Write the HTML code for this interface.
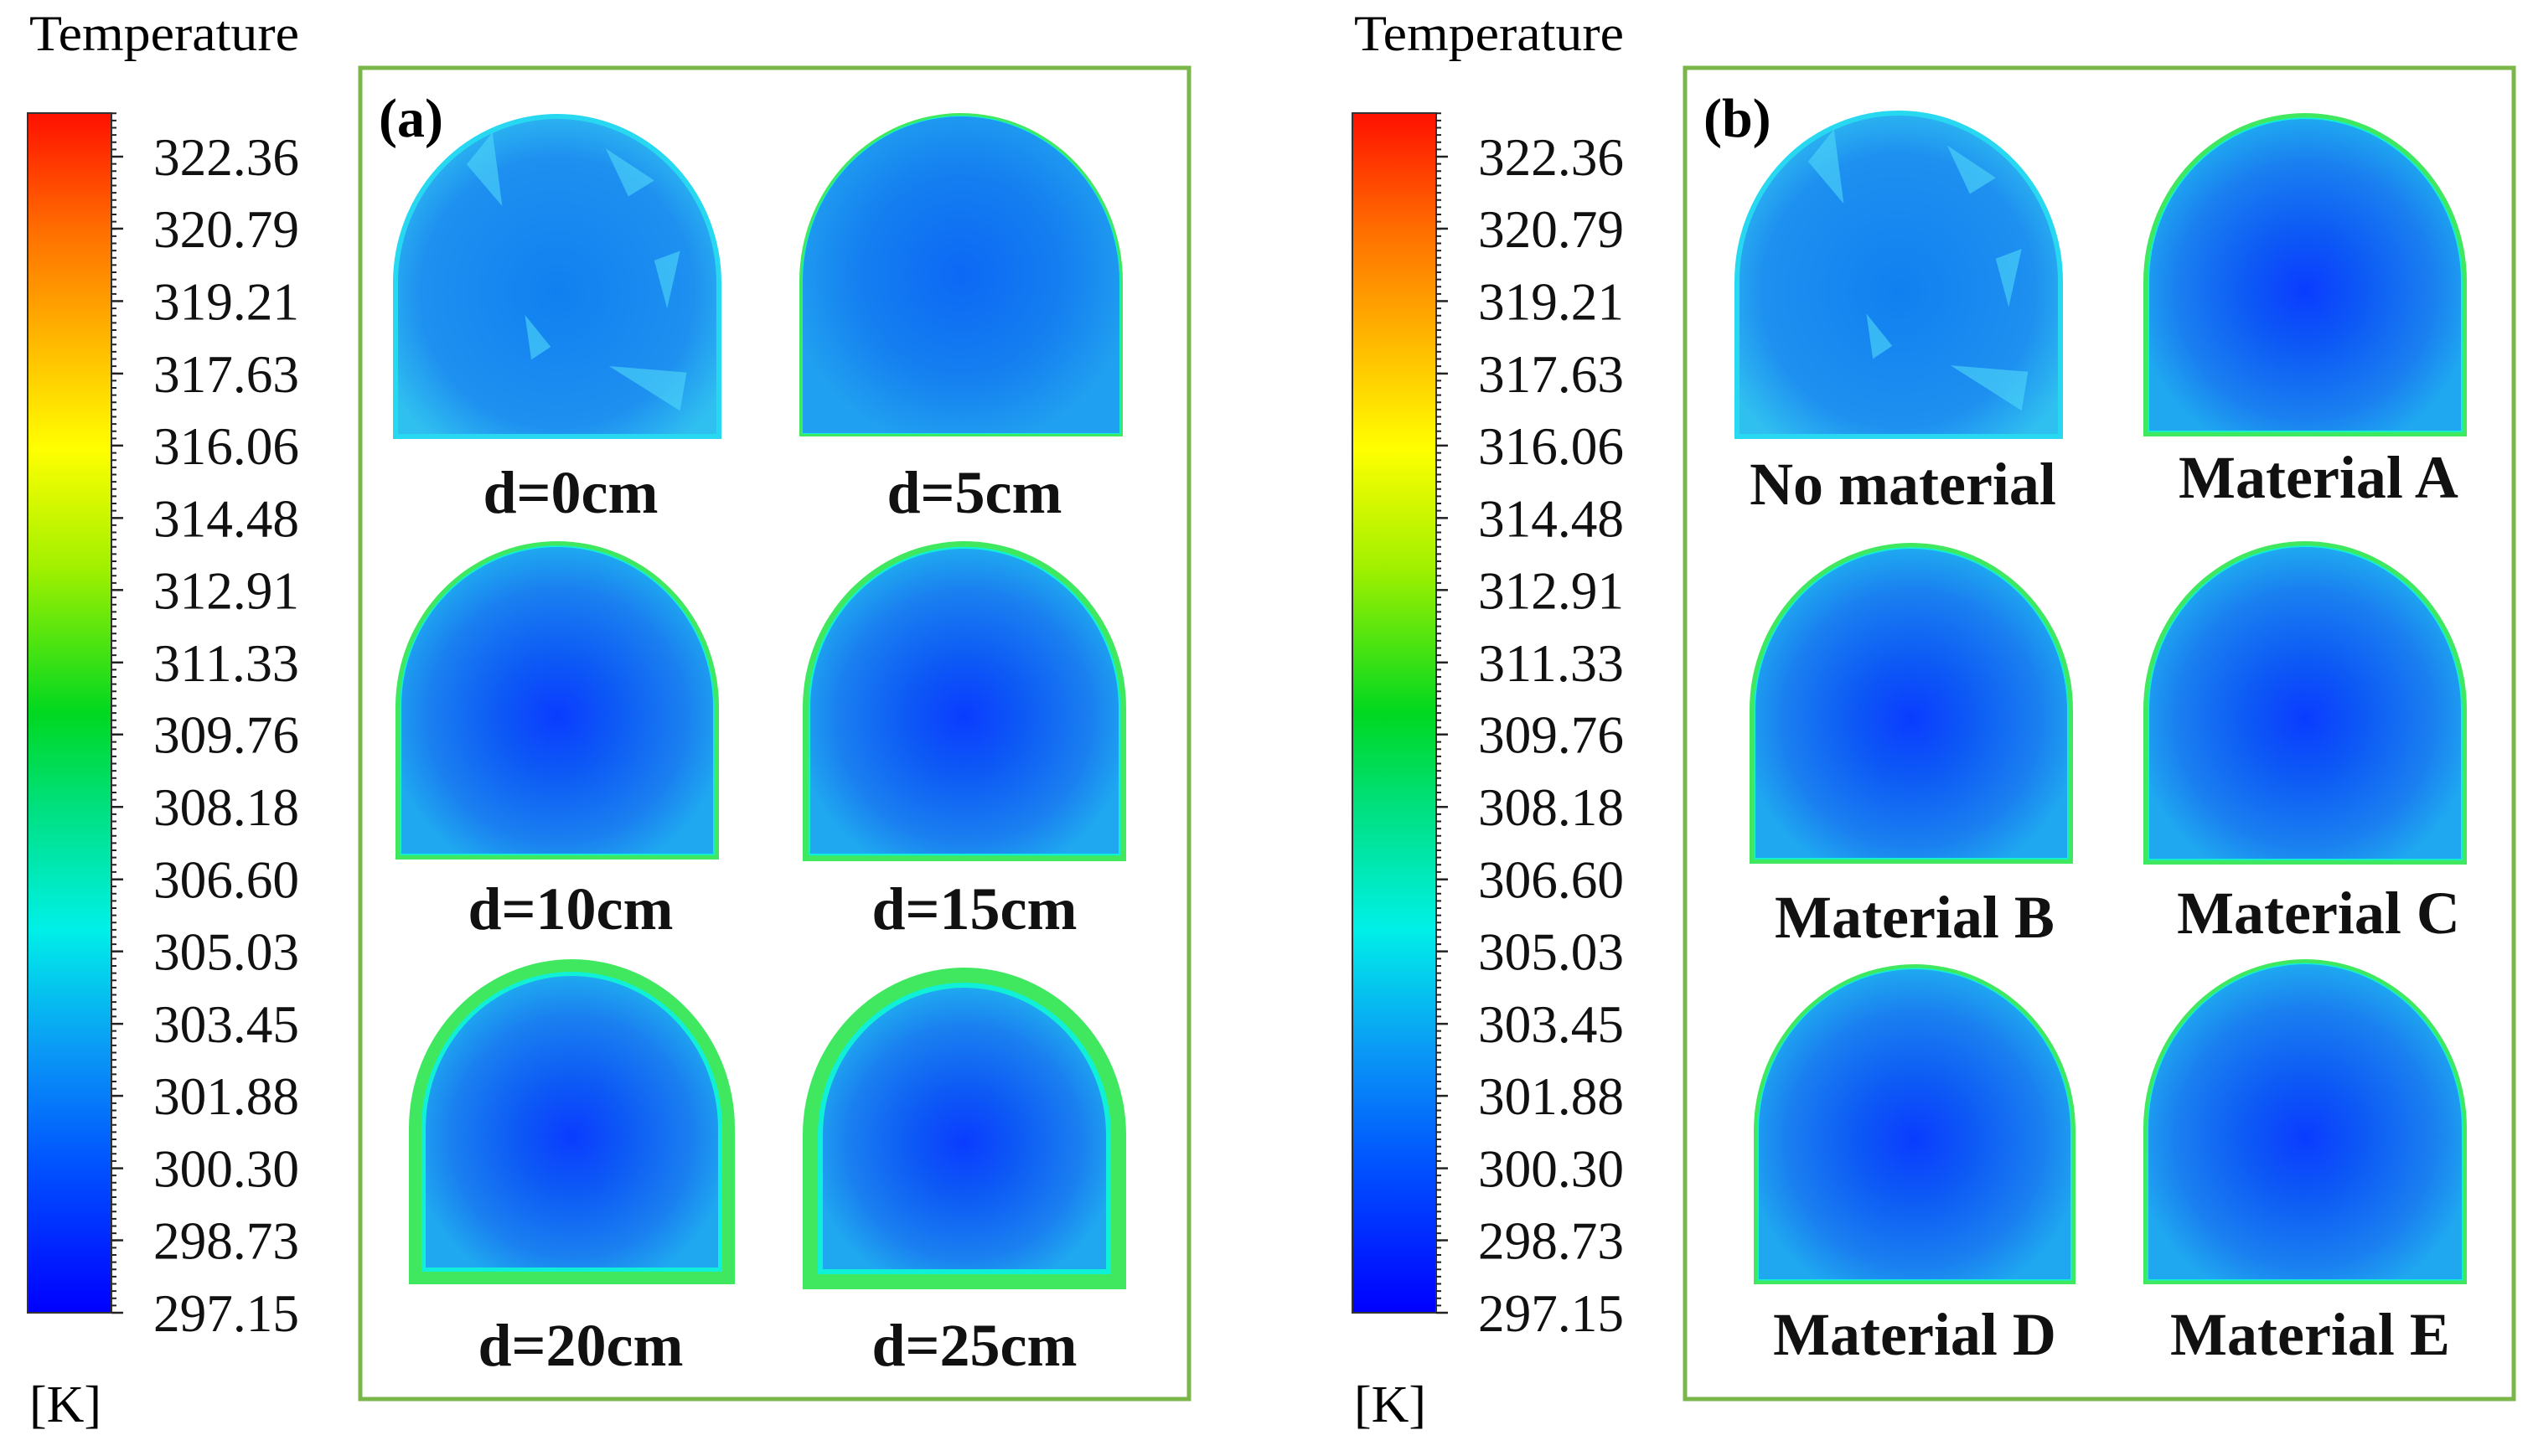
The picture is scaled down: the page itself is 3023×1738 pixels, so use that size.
<!DOCTYPE html>
<html><head><meta charset="utf-8"><style>
html,body{margin:0;padding:0;background:#fff;}
svg{display:block;}
text{font-family:"Liberation Serif",serif;}
</style></head><body>
<svg id="fig" width="3023" height="1738" viewBox="0 0 3023 1738" xmlns="http://www.w3.org/2000/svg">
<defs>
<linearGradient id="jet" x1="0" y1="1" x2="0" y2="0">
<stop offset="0" stop-color="#0000ff"/>
<stop offset="0.12" stop-color="#0050ff"/>
<stop offset="0.22" stop-color="#0a9af5"/>
<stop offset="0.32" stop-color="#00f0e8"/>
<stop offset="0.42" stop-color="#00e080"/>
<stop offset="0.5" stop-color="#00d820"/>
<stop offset="0.62" stop-color="#a0f000"/>
<stop offset="0.72" stop-color="#ffff00"/>
<stop offset="0.82" stop-color="#ffb000"/>
<stop offset="0.9" stop-color="#ff7000"/>
<stop offset="1" stop-color="#ff1000"/>
</linearGradient>
<radialGradient id="inner" cx="0.5" cy="0.55" r="0.55">
<stop offset="0" stop-color="#0a3cff"/>
<stop offset="0.35" stop-color="#0d5af5"/>
<stop offset="0.75" stop-color="#1a80f0"/>
<stop offset="1" stop-color="#1fa8f0"/>
</radialGradient>
<radialGradient id="inner5" cx="0.5" cy="0.5" r="0.55">
<stop offset="0" stop-color="#0c68f5"/>
<stop offset="0.6" stop-color="#1580f0"/>
<stop offset="1" stop-color="#20a0f0"/>
</radialGradient>
<radialGradient id="inner0" cx="0.5" cy="0.55" r="0.6">
<stop offset="0" stop-color="#1080f0"/>
<stop offset="0.7" stop-color="#1e90f0"/>
<stop offset="1" stop-color="#30c0f0"/>
</radialGradient>
</defs>
</svg>
<script>
const tickLabels=["322.36","320.79","319.21","317.63","316.06","314.48","312.91","311.33","309.76","308.18","306.60","305.03","303.45","301.88","300.30","298.73","297.15"];
const panelALabels=["d=0cm","d=5cm","d=10cm","d=15cm","d=20cm","d=25cm"];
const panelBLabels=["No material","Material A","Material B","Material C","Material D","Material E"];
const panelAEdge=[0,4,7,9,20,24];
const panelBEdge=[0,7,7,7,6,6];

const NS="http://www.w3.org/2000/svg";
const svg=document.getElementById('fig');
function mk(tag,attrs,parent){const e=document.createElementNS(NS,tag);for(const k in attrs)e.setAttribute(k,attrs[k]);(parent||svg).appendChild(e);return e;}
const vmin=297.15,vmax=322.36,barTop=135,barBot=1567,yTopLabel=187;
function yOf(v){return barBot-(v-vmin)/(vmax-vmin)*(barBot-yTopLabel);}

function colorbar(ox,name){
  const g=mk('g',{});
  
  
  const t=mk('text',{x:ox+2,y:60,'font-size':60,textLength:322,lengthAdjust:'spacingAndGlyphs'},g);t.textContent='Temperature';
  
  const r=mk('rect',{x:ox,y:barTop,width:100,height:barBot-barTop,fill:'url(#jet)',stroke:'#333','stroke-width':2},g);
  
  const step=(barBot-yTopLabel)/(tickLabels.length-1);
  for(let y=barBot;y>=barTop;y-=step/10){mk('line',{x1:ox+100,x2:ox+106,y1:y,y2:y,stroke:'#222','stroke-width':2},g);}
  tickLabels.forEach(function(lbl){
    const y=yOf(parseFloat(lbl));
    mk('line',{x1:ox+100,x2:ox+114,y1:y,y2:y,stroke:'#222','stroke-width':2.5},g);
    const tx=mk('text',{x:ox+150,y:y+22,'font-size':64,fill:'#111',textLength:174,lengthAdjust:'spacingAndGlyphs'},g);tx.textContent=lbl;
    
  });
  const k=mk('text',{x:ox+2,y:1697,'font-size':62},g);k.textContent='[K]';
  
}
colorbar(33,'colorbar-a');
colorbar(1614,'colorbar-b');

function tunnel(x,y,w,h,edge,fillId,name,patches){
  const g=mk('g',{});
  
  
  const ry=h*0.52,rx=w/2;
  const d=`M${x},${y+h} L${x},${y+ry} A${rx},${ry} 0 0 1 ${x+w},${y+ry} L${x+w},${y+h} Z`;
  if(edge>0){
    mk('path',{d:d,fill:'#40e860'},g);
    const e2=edge*0.75;
    const w2=w-2*e2,h2=h-2*e2,ry2=ry-e2,x2=x+e2,y2=y+e2;
    mk('path',{d:`M${x2},${y2+h2} L${x2},${y2+ry2} A${w2/2},${ry2} 0 0 1 ${x2+w2},${y2+ry2} L${x2+w2},${y2+h2} Z`,fill:'#10f0d8'},g);
    const e3=edge;
    const w3=w-2*e3,h3=h-2*e3,ry3=ry-e3,x3=x+e3,y3=y+e3;
    mk('path',{d:`M${x3},${y3+h3} L${x3},${y3+ry3} A${w3/2},${ry3} 0 0 1 ${x3+w3},${y3+ry3} L${x3+w3},${y3+h3} Z`,fill:'url(#'+fillId+')'},g);
  } else {
    mk('path',{d:d,fill:'url(#'+fillId+')',stroke:'#28d8f0','stroke-width':6},g);
    if(patches){
      [[0.22,0.15,0.3,0.05,0.33,0.28],[0.65,0.1,0.8,0.2,0.72,0.25],[0.8,0.45,0.88,0.42,0.84,0.6],[0.4,0.62,0.48,0.72,0.42,0.76],[0.66,0.78,0.9,0.8,0.88,0.92]].forEach(function(p){
        mk('polygon',{points:`${x+p[0]*w},${y+p[1]*h} ${x+p[2]*w},${y+p[3]*h} ${x+p[4]*w},${y+p[5]*h}`,fill:'#50d8f8',opacity:0.6},g);
      });
    }
  }
}

function panel(bx,name,letter,labels,edges,pos,labelPos){
  const b=mk('rect',{x:bx,y:81,width:989,height:1589,fill:'none',stroke:'#7ab648','stroke-width':5});
  
  const l=mk('text',{x:bx+22,y:163,'font-size':66,'font-weight':'bold'});l.textContent=letter;
  
  labels.forEach(function(lbl,i){
    const p=pos[i];
    const fid=edges[i]===0?'inner0':(edges[i]<6?'inner5':'inner');
    tunnel(p[0],p[1],p[2],p[3],edges[i],fid,name+'-tunnel-'+(i+1),edges[i]===0);
    const t=mk('text',{x:labelPos[i][0],y:labelPos[i][1]+24,'font-size':72,'font-weight':'bold','text-anchor':'middle',fill:'#111'});
    t.textContent=lbl;
    
  });
}
panel(430,'panel-a','(a)',panelALabels,panelAEdge,
 [[472,139,386,382],[954,135,386,386],[472,646,386,380],[958,646,386,382],[488,1145,389,388],[958,1155,386,384]],
 [[681,588],[1163,588],[681,1085],[1163,1085],[693,1606],[1163,1606]]);
panel(2011,'panel-b','(b)',panelBLabels,panelBEdge,
 [[2073,135,386,386],[2558,135,386,386],[2088,648,386,383],[2558,646,386,386],[2093,1151,384,382],[2558,1145,386,388]],
 [[2271,578],[2767,570],[2285,1095],[2767,1090],[2285,1593],[2757,1593]]);
</script>
</body></html>
